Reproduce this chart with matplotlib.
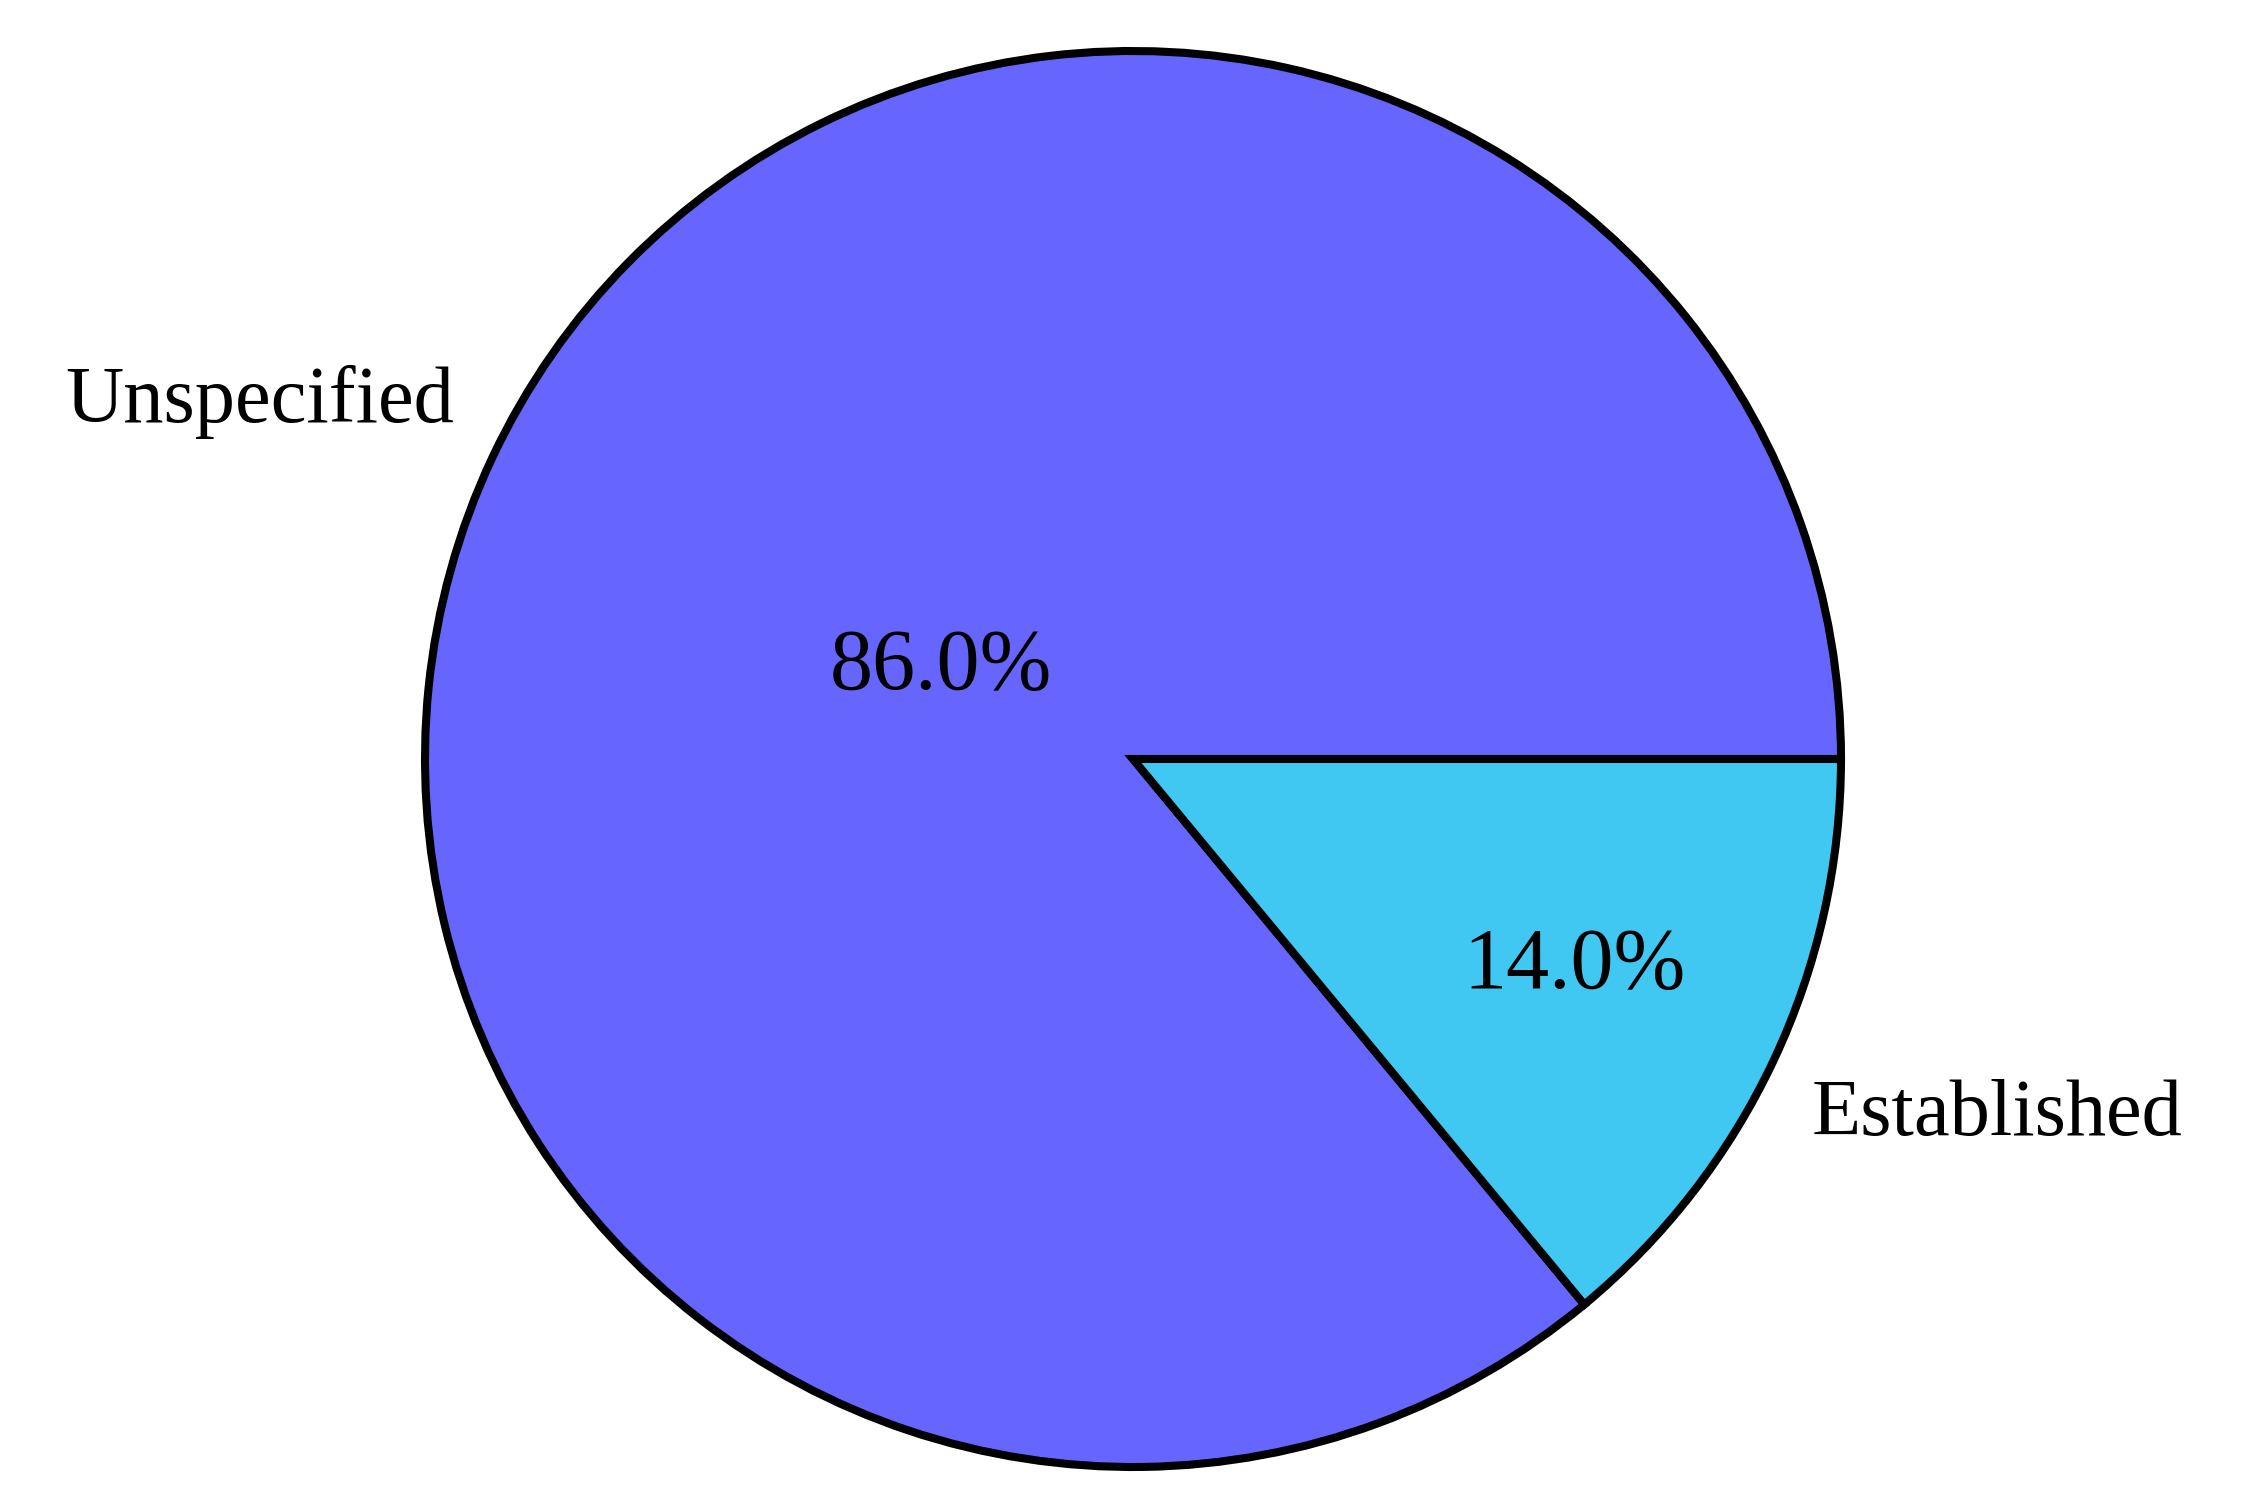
import numpy as np
import matplotlib
matplotlib.use("Agg")
import matplotlib.pyplot as plt

categories = ["Unspecified", "Established"]
shares = [86.0, 14.0]
colors = ["#6666FF", "#40C8F2"]
pct_dist = [0.30, 0.69]

plt.rcParams['font.family'] = ['Liberation Serif', 'DejaVu Serif']

W, H, DPI = 2260, 1500, 200
fig = plt.figure(figsize=(W / DPI, H / DPI), dpi=DPI)
ax = fig.add_axes([0, 0, 1, 1])

wedges, texts, autotexts = ax.pie(
    shares, labels=categories, colors=colors, autopct='%1.1f%%',
    startangle=0, counterclock=True, labeldistance=1.06,
    wedgeprops=dict(edgecolor='black', linewidth=2.9),
    textprops=dict(fontsize=29, color='black'))

for w, t, at, d in zip(wedges, texts, autotexts, pct_dist):
    mid = np.deg2rad((w.theta1 + w.theta2) / 2)
    y = np.sin(mid)
    t.set_verticalalignment('bottom' if y > 0 else 'top')
    at.set_position((d * np.cos(mid), d * np.sin(mid)))
    at.set_fontsize(31)

scale = 708.0  # px per unit radius
cx, cy = 1133, 759  # centre in pixels (from top-left)
ax.set_xlim(-cx / scale, (W - cx) / scale)
ax.set_ylim(-(H - cy) / scale, cy / scale)
ax.set_aspect('equal')
ax.axis('off')

fig.savefig('out.png', dpi=DPI)
